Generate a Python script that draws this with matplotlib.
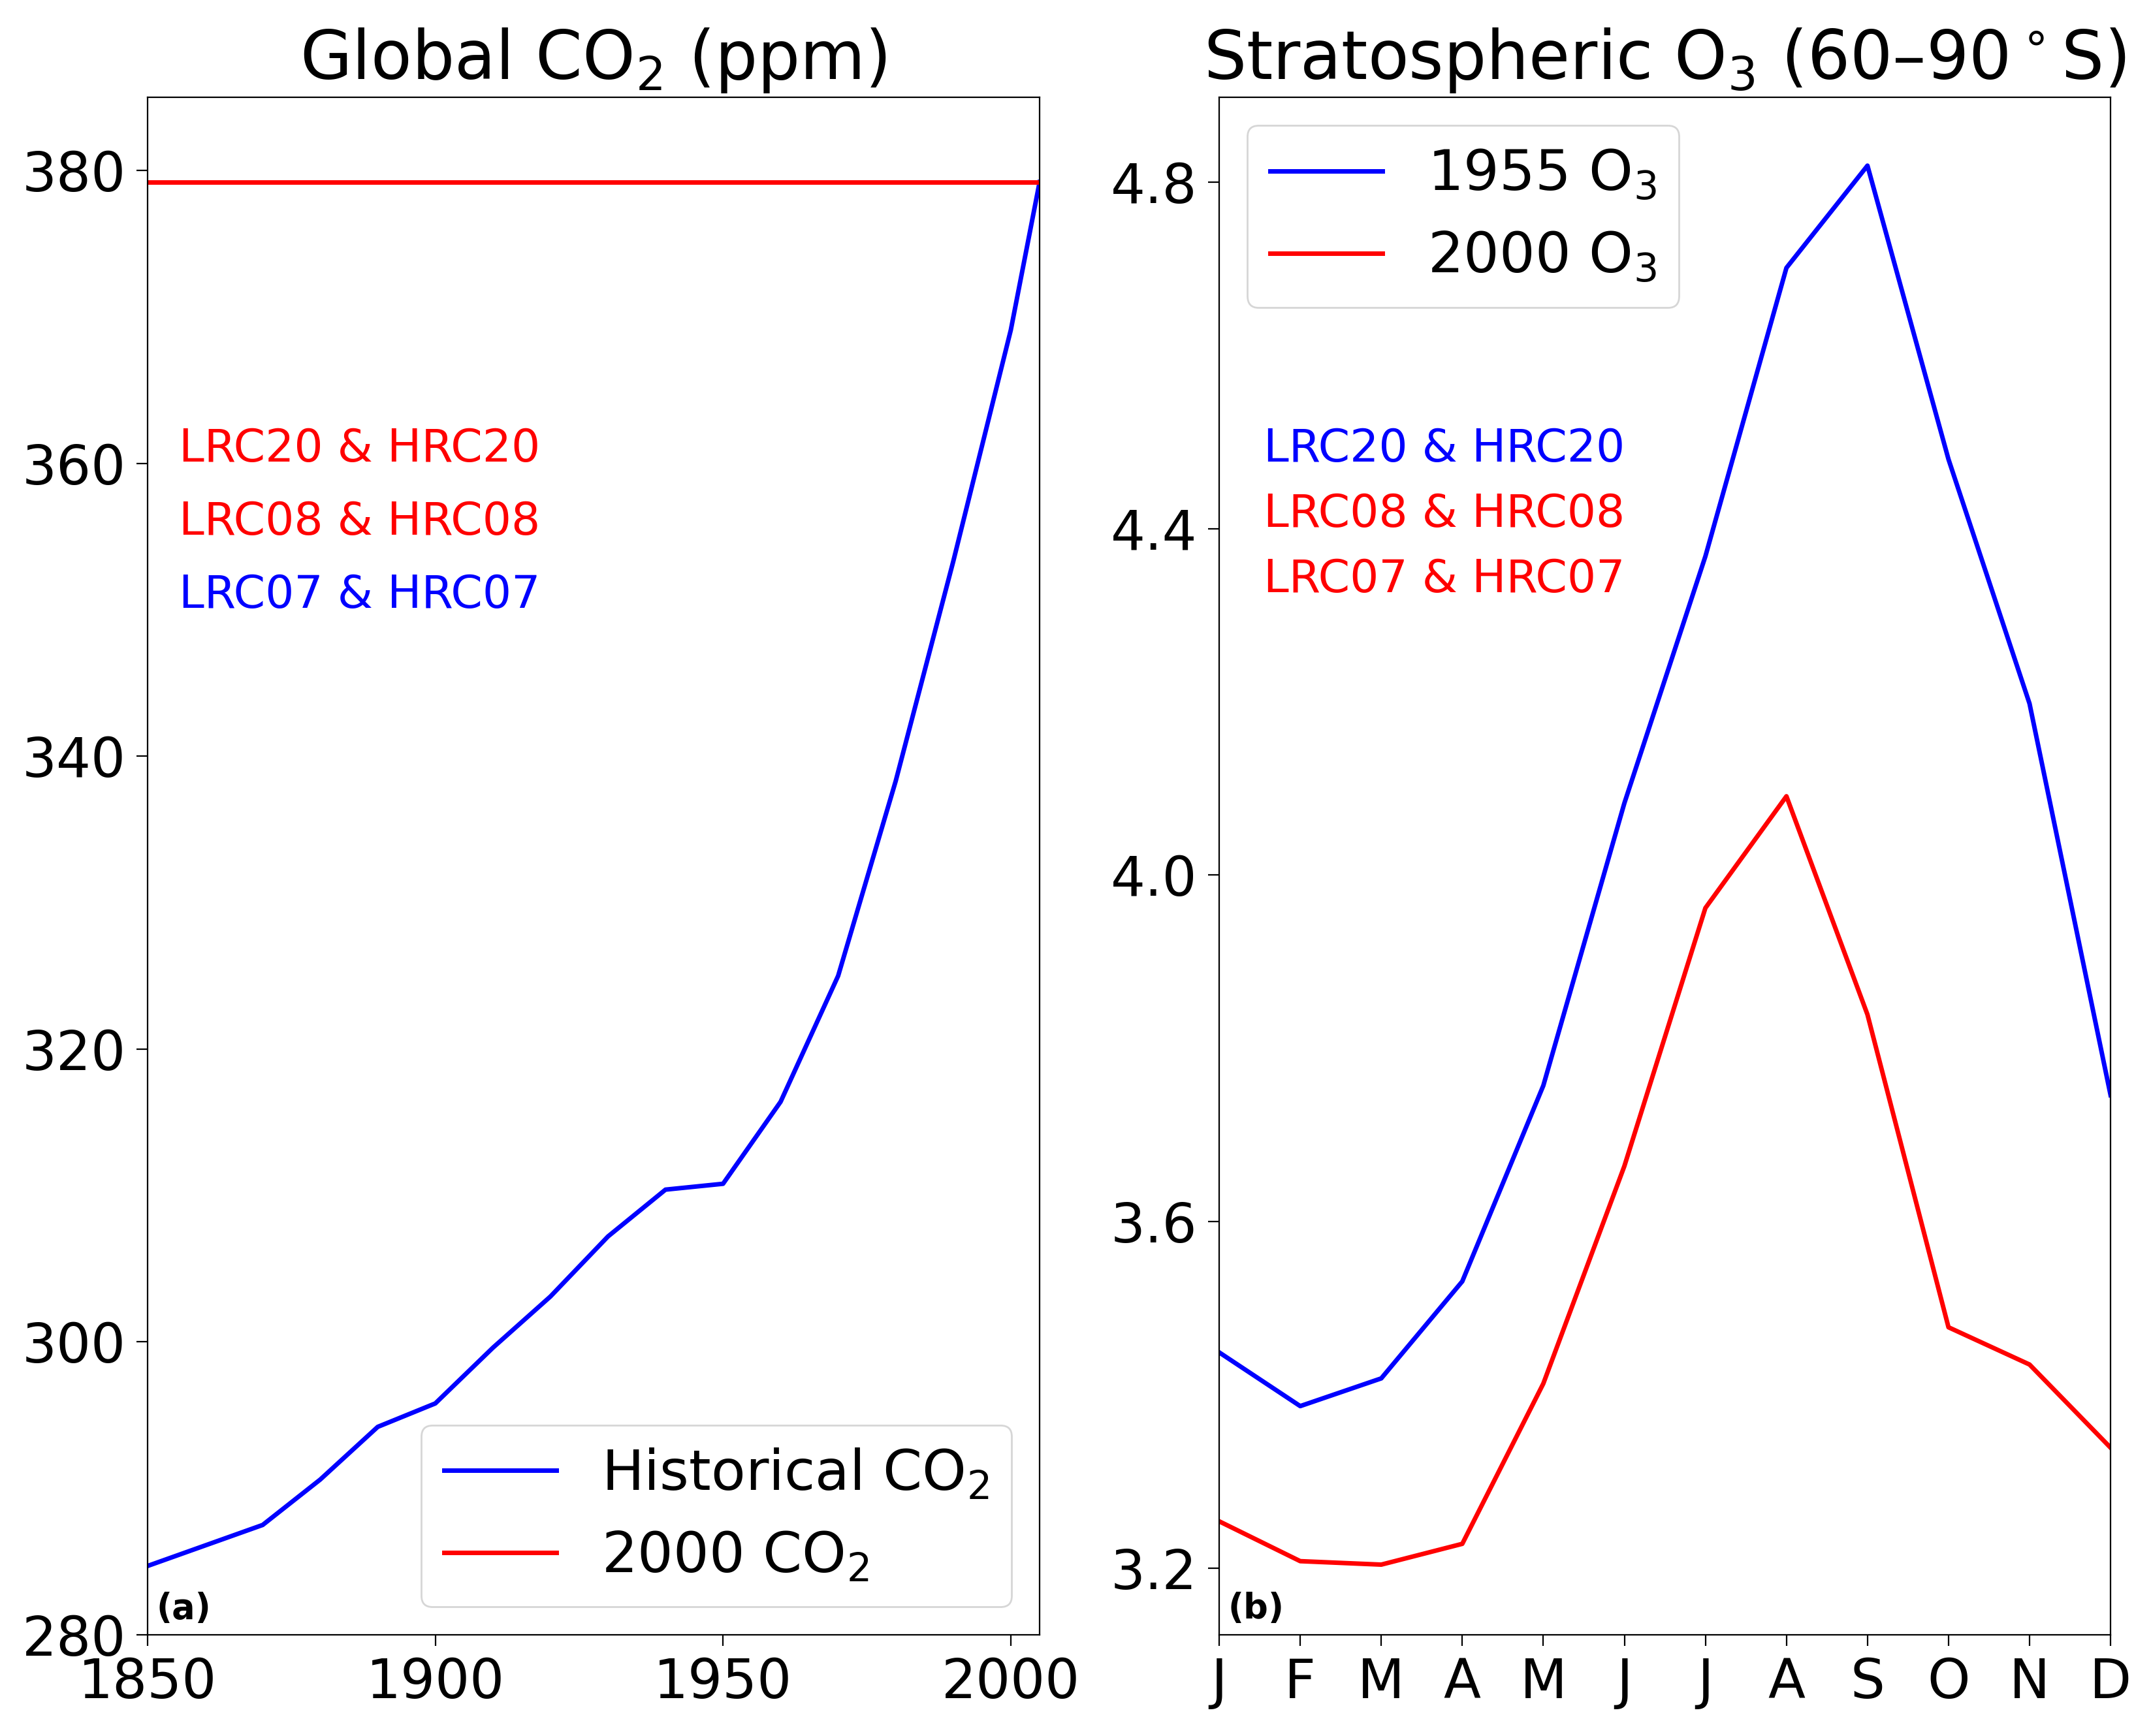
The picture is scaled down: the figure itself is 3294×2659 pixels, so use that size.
import numpy as np
import matplotlib
matplotlib.use("Agg")
import matplotlib.pyplot as plt

# CO2 data (ppm)
years = [1850, 1860, 1870, 1880, 1890, 1900, 1910, 1920, 1930, 1940, 1950,
         1960, 1970, 1980, 1990, 2000, 2005]
co2_hist = [284.7, 286.1, 287.5, 290.6, 294.2, 295.8, 299.6, 303.1, 307.2, 310.4,
            310.8, 316.4, 325.0, 338.3, 353.3, 369.1, 379.2]
co2_2000 = [379.2] * len(years)

# O3 data, 60-90S
months = ["J", "F", "M", "A", "M", "J", "J", "A", "S", "O", "N", "D"]
o3_1955 = [3.449, 3.387, 3.419, 3.531, 3.757, 4.083, 4.368, 4.701, 4.819, 4.48, 4.198, 3.746]
o3_2000 = [3.254, 3.208, 3.204, 3.228, 3.413, 3.664, 3.962, 4.091, 3.839, 3.478, 3.435, 3.339]

left_labels = ["LRC20 & HRC20", "LRC08 & HRC08", "LRC07 & HRC07"]
left_colors = ["red", "red", "blue"]
right_labels = ["LRC20 & HRC20", "LRC08 & HRC08", "LRC07 & HRC07"]
right_colors = ["blue", "red", "red"]

fig = plt.figure(figsize=(16.47, 13.295), dpi=200)
ax1 = fig.add_axes([0.0686, 0.0583, 0.4147, 0.8857])
ax2 = fig.add_axes([0.5668, 0.0583, 0.4144, 0.8857])

# (a) CO2
ax1.plot(years, co2_hist, color="blue", lw=2.5, label=r"Historical CO$_2$")
ax1.plot(years, co2_2000, color="red", lw=2.5, label=r"2000 CO$_2$")
ax1.set_xlim(1850, 2005)
ax1.set_ylim(280, 385)
ax1.set_xticks([1850, 1900, 1950, 2000])
ax1.set_yticks([280, 300, 320, 340, 360, 380])
ax1.tick_params(labelsize=30, length=6, pad=6)
ax1.set_title(r"Global CO$_2$ (ppm)", fontsize=37, pad=10)
ax1.legend(loc="lower right", fontsize=31)
for i, (t, c) in enumerate(zip(left_labels, left_colors)):
    ax1.text(0.035, 0.763 - 0.0475 * i, t, color=c, fontsize=25,
             transform=ax1.transAxes, va="baseline")
ax1.text(0.01, 0.006, "(a)", fontsize=19, fontweight="bold",
         transform=ax1.transAxes, va="bottom")

# (b) O3
x = np.arange(len(months))
ax2.plot(x, o3_1955, color="blue", lw=2.5, label=r"1955 O$_3$")
ax2.plot(x, o3_2000, color="red", lw=2.5, label=r"2000 O$_3$")
ax2.set_xlim(0, 11)
ax2.set_ylim(3.123, 4.898)
ax2.set_xticks(x)
ax2.set_xticklabels(months)
ax2.set_yticks([3.2, 3.6, 4.0, 4.4, 4.8])
ax2.tick_params(labelsize=30, length=6, pad=6)
ax2.set_title(r"Stratospheric O$_3$ (60–90$^\circ$S)", fontsize=37, pad=10)
ax2.legend(loc="upper left", fontsize=31)
for i, (t, c) in enumerate(zip(right_labels, right_colors)):
    ax2.text(0.05, 0.763 - 0.0425 * i, t, color=c, fontsize=25,
             transform=ax2.transAxes, va="baseline")
ax2.text(0.01, 0.006, "(b)", fontsize=19, fontweight="bold",
         transform=ax2.transAxes, va="bottom")

fig.savefig("out.png", dpi=200)
